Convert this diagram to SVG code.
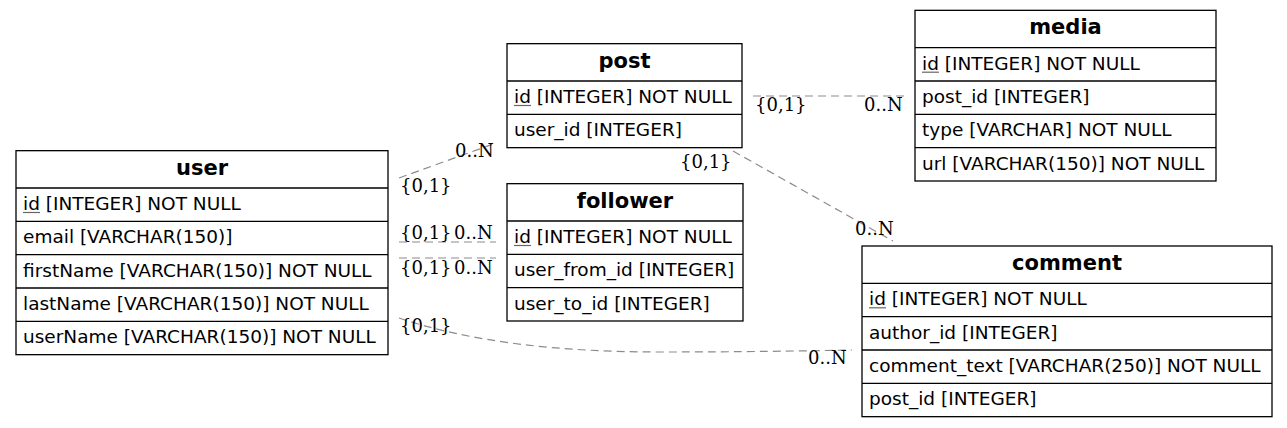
<svg xmlns="http://www.w3.org/2000/svg" width="1287" height="428" viewBox="0 0 1287 428">
<style>
.box{fill:#fff;stroke:#000;stroke-width:1.3}
.sep{stroke:#000;stroke-width:1.3}
.hd{font-family:"DejaVu Sans",sans-serif;font-weight:bold;font-size:21px;fill:#000;text-anchor:middle}
.rw{font-family:"DejaVu Sans",sans-serif;font-size:18.5px;fill:#000}
.ul{stroke:#666;stroke-width:1.2}
.edge{fill:none;stroke:#8c8c8c;stroke-width:1.2;stroke-dasharray:8,5}
.lb{font-family:"DejaVu Serif",serif;font-size:18px;fill:#000}
</style>
<rect width="1287" height="428" fill="#fff"/>
<g id="connectors">
<path class="edge" d="M399,178 L496,143"/>
<path class="edge" d="M399,242 L496,242"/>
<path class="edge" d="M399,258 L496,258"/>
<path class="edge" d="M399,318 C470,342 560,352 660,352 C740,352 800,351 852,350"/>
<path class="edge" d="M753,96 L905,96"/>
<path class="edge" d="M733,151 L893,241"/>
<text class="lb" x="455" y="157">0..N</text>
<text class="lb" x="400" y="192">{0,1}</text>
<text class="lb" x="400" y="239">{0,1}</text>
<text class="lb" x="454" y="239">0..N</text>
<text class="lb" x="400" y="274">{0,1}</text>
<text class="lb" x="454" y="274">0..N</text>
<text class="lb" x="400" y="332">{0,1}</text>
<text class="lb" x="808" y="364">0..N</text>
<text class="lb" x="755" y="111">{0,1}</text>
<text class="lb" x="864" y="111">0..N</text>
<text class="lb" x="680" y="168">{0,1}</text>
<text class="lb" x="855" y="235">0..N</text>
</g>
<g id="user">
<rect class="box" x="16" y="150.67" width="372" height="204"/>
<line class="sep" x1="16" y1="188" x2="388" y2="188"/>
<line class="sep" x1="16" y1="221.33" x2="388" y2="221.33"/>
<line class="sep" x1="16" y1="254.67" x2="388" y2="254.67"/>
<line class="sep" x1="16" y1="288" x2="388" y2="288"/>
<line class="sep" x1="16" y1="321.33" x2="388" y2="321.33"/>
<text class="hd" x="202" y="174.5">user</text>
<text class="rw" x="23" y="210">id [INTEGER] NOT NULL</text>
<line class="ul" x1="23" y1="212.5" x2="40" y2="212.5"/>
<text class="rw" x="23" y="243.3">email [VARCHAR(150)]</text>
<text class="rw" x="23" y="276.7">firstName [VARCHAR(150)] NOT NULL</text>
<text class="rw" x="23" y="310">lastName [VARCHAR(150)] NOT NULL</text>
<text class="rw" x="23" y="343.3">userName [VARCHAR(150)] NOT NULL</text>
</g>
<g id="post">
<rect class="box" x="507" y="43.67" width="235" height="104"/>
<line class="sep" x1="507" y1="81" x2="742" y2="81"/>
<line class="sep" x1="507" y1="114.33" x2="742" y2="114.33"/>
<text class="hd" x="624.5" y="67.5">post</text>
<text class="rw" x="514" y="103">id [INTEGER] NOT NULL</text>
<line class="ul" x1="514" y1="105.5" x2="531" y2="105.5"/>
<text class="rw" x="514" y="136.3">user_id [INTEGER]</text>
</g>
<g id="follower">
<rect class="box" x="507" y="183.67" width="236" height="137.33"/>
<line class="sep" x1="507" y1="221" x2="743" y2="221"/>
<line class="sep" x1="507" y1="254.33" x2="743" y2="254.33"/>
<line class="sep" x1="507" y1="287.67" x2="743" y2="287.67"/>
<text class="hd" x="625" y="207.5">follower</text>
<text class="rw" x="514" y="243">id [INTEGER] NOT NULL</text>
<line class="ul" x1="514" y1="245.5" x2="531" y2="245.5"/>
<text class="rw" x="514" y="276.3">user_from_id [INTEGER]</text>
<text class="rw" x="514" y="309.7">user_to_id [INTEGER]</text>
</g>
<g id="media">
<rect class="box" x="915" y="10.33" width="301" height="170.67"/>
<line class="sep" x1="915" y1="47.67" x2="1216" y2="47.67"/>
<line class="sep" x1="915" y1="81" x2="1216" y2="81"/>
<line class="sep" x1="915" y1="114.33" x2="1216" y2="114.33"/>
<line class="sep" x1="915" y1="147.67" x2="1216" y2="147.67"/>
<text class="hd" x="1065.5" y="34.2">media</text>
<text class="rw" x="922" y="69.7">id [INTEGER] NOT NULL</text>
<line class="ul" x1="922" y1="72.2" x2="939" y2="72.2"/>
<text class="rw" x="922" y="103">post_id [INTEGER]</text>
<text class="rw" x="922" y="136.3">type [VARCHAR] NOT NULL</text>
<text class="rw" x="922" y="169.7">url [VARCHAR(150)] NOT NULL</text>
</g>
<g id="comment">
<rect class="box" x="862" y="246" width="410" height="170.67"/>
<line class="sep" x1="862" y1="283.33" x2="1272" y2="283.33"/>
<line class="sep" x1="862" y1="316.67" x2="1272" y2="316.67"/>
<line class="sep" x1="862" y1="350" x2="1272" y2="350"/>
<line class="sep" x1="862" y1="383.33" x2="1272" y2="383.33"/>
<text class="hd" x="1067" y="269.8">comment</text>
<text class="rw" x="869" y="305.3">id [INTEGER] NOT NULL</text>
<line class="ul" x1="869" y1="307.8" x2="886" y2="307.8"/>
<text class="rw" x="869" y="338.7">author_id [INTEGER]</text>
<text class="rw" x="869" y="372">comment_text [VARCHAR(250)] NOT NULL</text>
<text class="rw" x="869" y="405.3">post_id [INTEGER]</text>
</g>
</svg>
